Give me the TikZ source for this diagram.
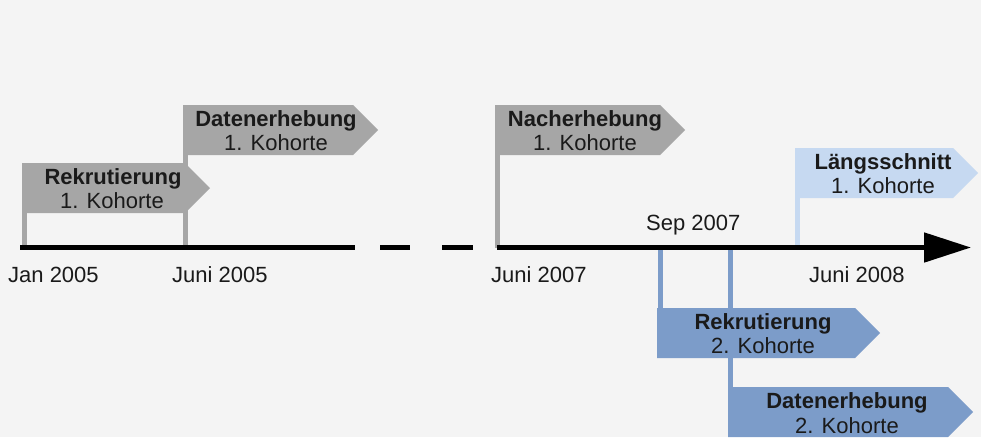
\documentclass[tikz,border=0pt]{standalone}
\usepackage{fontspec}
\setmainfont{Liberation Sans}
\usetikzlibrary{arrows.meta}
\definecolor{bg}{RGB}{244,244,244}
\definecolor{flaggray}{RGB}{166,166,166}
\definecolor{flagblue}{RGB}{124,156,201}
\definecolor{flaglight}{RGB}{198,217,241}
\definecolor{txt}{RGB}{26,26,26}
\tikzset{
  lbl/.style={font=\fontsize{22}{24}\selectfont, text=txt, inner sep=0pt, anchor=base},
  ttl/.style={lbl, font=\fontsize{22}{24}\selectfont\bfseries},
  datelbl/.style={lbl, anchor=base west},
  axis/.style={line width=5pt, black},
}
% \flagshape{color}{left}{top}{tip}
\newcommand{\flagshape}[4]{%
  \fill[#1] (#2,#3) -- (#4-25,#3) -- (#4,#3+25) -- (#4-25,#3+50) -- (#2,#3+50) -- cycle;}
\begin{document}
\begin{tikzpicture}[x=1pt,y=-1pt]
\fill[bg] (0,0) rectangle (981,437);
\useasboundingbox (0,0) rectangle (981,437);

% poles
\fill[flaggray] (22,213) rectangle (27,248);
\fill[flaggray] (183,155) rectangle (188,248);
\fill[flaggray] (495,155) rectangle (500,248);
\fill[flaglight] (795,197) rectangle (800,248);
\fill[flagblue] (658,248) rectangle (663,308);
\fill[flagblue] (728,248) rectangle (733,387);

% timeline
\coordinate (t0) at (20,247.5);
\coordinate (t1) at (355,247.5);
\coordinate (d1a) at (380,247.5);
\coordinate (d1b) at (410,247.5);
\coordinate (d2a) at (442,247.5);
\coordinate (d2b) at (473,247.5);
\coordinate (t2) at (497,247.5);
\coordinate (t3) at (971,247.5);
\draw[axis] (t0) -- (t1);
\draw[axis] (d1a) -- (d1b);
\draw[axis] (d2a) -- (d2b);
\draw[axis, -{Triangle[length=47pt,width=29pt]}] (t2) -- (t3);

% flags
\flagshape{flaggray}{22}{163}{210}
\node[ttl] (r1) at (113,184) {Rekrutierung};
\node[lbl] (r1b) at (112,208) {1. Kohorte};

\flagshape{flaggray}{183}{105}{378}
\node[ttl] (d1) at (276,126) {Datenerhebung};
\node[lbl] (d1b) at (276,150) {1. Kohorte};

\flagshape{flaggray}{495}{105}{685}
\node[ttl] (n1) at (585,126) {Nacherhebung};
\node[lbl] (n1b) at (585,150) {1. Kohorte};

\flagshape{flaglight}{795}{148}{978}
\node[ttl] (l1) at (883,169) {Längsschnitt};
\node[lbl] (l1b) at (883,193) {1. Kohorte};

\flagshape{flagblue}{657}{308}{880}
\node[ttl] (r2) at (763,329) {Rekrutierung};
\node[lbl] (r2b) at (763,353) {2. Kohorte};

\flagshape{flagblue}{728}{387}{973}
\node[ttl] (d2) at (847,408.5) {Datenerhebung};
\node[lbl] (d2b) at (847,433) {2. Kohorte};

% dates
\node[datelbl] (jan05) at (8,282) {Jan 2005};
\node[datelbl] (jun05) at (172,282) {Juni 2005};
\node[datelbl] (jun07) at (491,282) {Juni 2007};
\node[datelbl] (sep07) at (646,230) {Sep 2007};
\node[datelbl] (jun08) at (809,282) {Juni 2008};
\end{tikzpicture}
\end{document}
